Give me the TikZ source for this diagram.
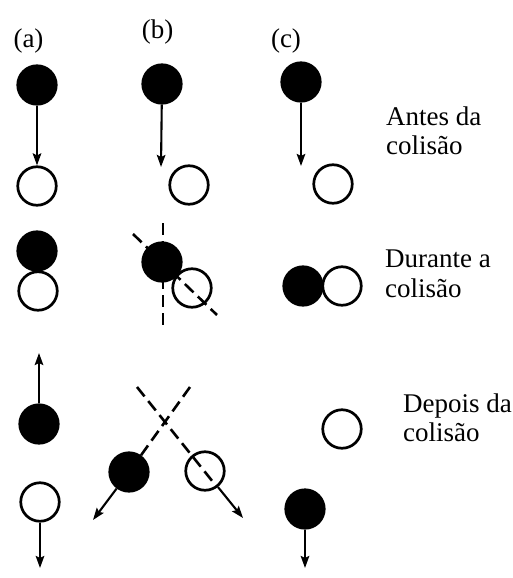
\documentclass[tikz,border=0pt]{standalone}
\usepackage{fontspec}
\setmainfont{Liberation Serif}
\usetikzlibrary{arrows.meta}
\begin{document}
\begin{tikzpicture}[x=1pt,y=-1pt,
  ball/.style={circle,draw,line width=2.7pt,minimum size=38.5pt,inner sep=0pt},
  dark/.style={ball,fill=black},
  light/.style={ball,fill=white},
  vel/.style={line width=2.1pt,-{Stealth[length=12pt,width=8.5pt,inset=2pt]}},
  axis/.style={line width=2.6pt,dash pattern=on 12pt off 6pt},
  caption/.style={font=\fontsize{27}{29.5}\selectfont,align=left,anchor=base west,inner sep=0pt},
  tag/.style={font=\fontsize{27}{29}\selectfont,anchor=base,inner sep=0pt}]
\useasboundingbox (0,0) rectangle (513,578);

% column labels
\node[tag] (la) at (28.5,48) {(a)};
\node[tag] (lb) at (157.5,38) {(b)};
\node[tag] (lc) at (286,48) {(c)};

% before the collision
\node[light] (a2) at (37,186) {};
\node[dark]  (a1) at (37,85) {};
\draw[vel] (a1) -- (a2);

\node[dark]  (b1) at (162,84) {};
\node[light] (b2) at (189,185) {};
\coordinate (bTip) at (161,167);
\draw[vel] (b1) -- (bTip);

\node[dark]  (c1) at (301,82) {};
\node[light] (c2) at (333,184) {};
\coordinate (cTip) at (301,166);
\draw[vel] (c1) -- (cTip);

% the anchor sits on the baseline of the second line
\node[caption] (t1) at (386,154.5) {Antes da\\colisão};

% during the collision
\node[light] (ad2) at (38,291) {};
\node[dark]  (ad1) at (37,251) {};

\node[light] (bd2) at (192,288) {};
\node[dark]  (bd1) at (162,262) {};
\coordinate (vTop) at (163,223);
\coordinate (vBot) at (163,326);
\coordinate (dTop) at (133,234);
\coordinate (dBot) at (217,315);
\draw[axis] (vTop) -- (vBot);
\draw[axis] (dTop) -- (dBot);

\node[light] (cd2) at (342,286) {};
\node[dark]  (cd1) at (303,286) {};

\node[caption] (t2) at (385,297) {Durante a\\colisão};

% after the collision
\node[dark]  (ae1) at (39,424) {};
\coordinate (aeTip) at (39,353);
\draw[vel] (ae1) -- (aeTip);
\node[light] (ae2) at (40,502) {};
\coordinate (ae2Tip) at (40,568);
\draw[vel] (ae2) -- (ae2Tip);

\node[dark]  (be1) at (129,472) {};
\node[light] (be2) at (205,471) {};
\coordinate (xR) at (190,387);
\coordinate (xL) at (137,387);
\coordinate (xEnd) at (213,482);
\draw[axis] (xR) -- (be1);
\draw[axis] (xL) -- (xEnd);
\coordinate (be1Tip) at (93,520);
\coordinate (be2Tip) at (243,518);
\draw[vel] (be1) -- (be1Tip);
\draw[vel] (be2) -- (be2Tip);

\node[light] (ce1) at (342,429) {};
\node[dark]  (ce2) at (305,509) {};
\coordinate (ceTip) at (305,568);
\draw[vel] (ce2) -- (ceTip);

\node[caption] (t3) at (403,441.5) {Depois da\\colisão};
\end{tikzpicture}
\end{document}
